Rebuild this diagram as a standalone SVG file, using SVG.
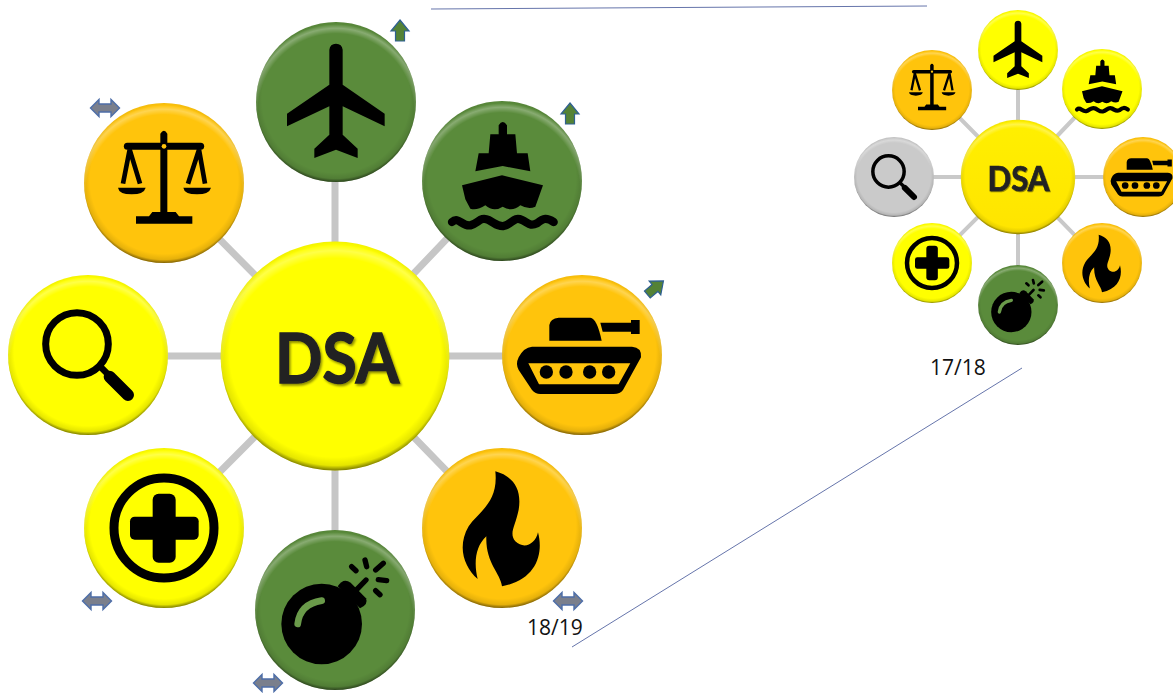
<svg xmlns="http://www.w3.org/2000/svg" width="1173" height="693" viewBox="0 0 1173 693">
<style>
.y{fill:#ffff00}.o{fill:#ffc40c}.g{fill:#5a8b3b}.s{fill:#cacaca}
.big{stroke:#c6c6c6;stroke-width:7;fill:none}
.small{stroke:#c9c9c9;stroke-width:4;fill:none}
.thin{stroke:#6675ab;stroke-width:1;fill:none}
.arrG{fill:#548235;stroke:#2f6092;stroke-width:1.2;stroke-linejoin:miter}
.arrB{fill:#7a7f8c;stroke:#4d6ea8;stroke-width:1.4}
.lbl{font-family:"Open Sans","Noto Sans",sans-serif;font-size:21px;fill:#111}
.hub{font-family:Lato,"Liberation Sans",sans-serif;font-weight:700;font-size:68px;fill:#222;stroke:#222;stroke-width:1.4;text-anchor:middle;filter:url(#ts)}
</style>
<defs>
<filter id="ts" x="-10%" y="-10%" width="120%" height="130%"><feDropShadow dx="1.5" dy="2" stdDeviation="1" flood-color="#000" flood-opacity=".45"/></filter>
<radialGradient id="edge" cx=".5" cy=".48" r=".525"><stop offset=".88" stop-color="#000" stop-opacity="0"/><stop offset=".95" stop-color="#000" stop-opacity=".1"/><stop offset="1" stop-color="#000" stop-opacity=".6"/></radialGradient>
<radialGradient id="shine" cx=".5" cy=".56" r=".56"><stop offset=".87" stop-color="#fff" stop-opacity="0"/><stop offset=".93" stop-color="#fff" stop-opacity=".28"/><stop offset=".975" stop-color="#fff" stop-opacity="0"/></radialGradient>
<linearGradient id="gold" x1="0" y1="0" x2="0" y2="1"><stop offset="0" stop-color="#fff000"/><stop offset="1" stop-color="#ffe400"/></linearGradient>
<g id="bevel"><circle r="80" fill="url(#edge)"/><circle r="80" fill="url(#shine)"/></g>
<g id="i-plane" transform="scale(.3333) translate(-315,-307)"><path d="M295,150Q297,132 315,132Q333,132 335,150V255L461,342V380L335,320V405L380,447V475L315,450L250,475V447L295,405V320L168,380V342L295,255Z"/></g>
<g id="i-ship" transform="scale(.3333) translate(-815,-545)"><path d="M805,378Q817,358 830,378V405H855L860,462H892L900,516L817,500L735,516L745,462H775L780,405H805Z"/><path d="M695,558L815,528L938,558L915,622Q895,632 870,618Q845,640 817,622Q790,640 765,618Q740,634 720,628L705,600Z"/><path d="M665,668C685,650 695,682 720,678C745,672 750,650 775,662C795,672 800,682 820,680C845,675 850,650 875,662C895,672 900,682 920,672C940,655 950,655 970,668" fill="none" stroke="#000" stroke-width="25" stroke-linecap="round"/></g>
<g id="i-scales" transform="scale(.3333) translate(-490,-278)"><path d="M380,168H600" stroke="#000" stroke-width="21" stroke-linecap="round"/><path d="M479,130Q490,112 500,130V365H525L535,378H575V400H406V378H445L455,365H479Z"/><circle cx="490" cy="168" r="7" class="o"/><path d="M367,280L387,178L418,280M562,280L595,178L613,280" fill="none" stroke="#000" stroke-width="14"/><path d="M352,292H435Q430,312 393,312Q355,312 352,292Z"/><path d="M548,292H631Q626,312 589,312Q551,312 548,292Z"/></g>
<g id="i-search" transform="scale(.3333) translate(-265,-795)"><circle cx="232" cy="762" r="94" fill="none" stroke="#000" stroke-width="21"/><path d="M300,828L330,858" stroke="#000" stroke-width="20"/><path d="M330,860L385,915" stroke="#000" stroke-width="36" stroke-linecap="round"/></g>
<g id="i-tank" transform="scale(.3333) translate(-545,-255)"><path d="M447,212V165Q450,145 475,143H570Q590,145 604,212Z"/><path d="M600,158H692V150H718V192H692V185H607Z"/><path fill-rule="evenodd" d="M395,230H695Q725,232 722,262L668,360Q660,372 640,372H420Q405,372 395,360L355,300Q345,282 355,262Q370,232 395,230ZM384,280L416,343H655L690,280Z"/><circle cx="438" cy="306" r="20"/><circle cx="497" cy="306" r="20"/><circle cx="568" cy="306" r="20"/><circle cx="625" cy="306" r="20"/></g>
<g id="i-fire" transform="scale(.3333) translate(-305,-775)"><path d="M285,605C340,620 365,660 355,720C345,770 325,790 345,815C370,840 405,825 413,788C430,850 410,930 305,950C300,910 255,880 258,800C225,830 220,880 232,928C190,890 170,830 205,770C235,725 295,700 285,605Z"/></g>
<g id="i-plus" transform="scale(.3333) translate(-280,-263)"><circle cx="280" cy="263" r="150" fill="none" stroke="#000" stroke-width="27"/><rect x="246" y="160" width="69" height="207" rx="18"/><rect x="178" y="229" width="206" height="69" rx="14"/></g>
<g id="i-bomb" transform="scale(.3333) translate(-795,-508)"><circle cx="755" cy="550" r="121"/><path d="M803,437Q820,410 842,426L888,473Q896,492 870,503Z"/><path d="M683,550Q690,490 755,480" fill="none" stroke="#6a9a4a" stroke-width="20" stroke-linecap="round"/><path d="M860,447L888,418M845,378L858,390M885,358L890,378M940,368L917,388M925,417L950,420M917,450L930,462" fill="none" stroke="#000" stroke-width="16" stroke-linecap="round"/></g>
<polygon id="up" points="0,-11 9,0 4.500,0 4.500,10 -4.500,10 -4.500,0 -9,0"/>
<polygon id="dbl" points="-14.500,0 -6,-8.500 -6,-4 6,-4 6,-8.500 14.500,0 6,8.500 6,4 -6,4 -6,8.500"/>
</defs>
<rect width="1173" height="693" fill="#fff"/>
<g id="connectors">
<path class="big" d="M335,356V102M335,356L502,181M335,356H582M335,356L502,528M335,356V610M335,356L164,528M335,356H88M335,356L164,183"/>
<path class="small" d="M1018,177V50M1018,177L1102,89M1018,177H1143M1018,177L1102,263M1018,177V305M1018,177L932,263M1018,177H894M1018,177L932,90"/>
<path class="thin" d="M431,9L927,6"/>
<path class="thin" d="M572,647L1022,368"/>
</g>
<g id="big-plane" transform="translate(336,102)"><circle r="80" class="g"/><use href="#bevel"/><use href="#i-plane"/></g>
<g id="big-ship" transform="translate(502,181)"><circle r="80" class="g"/><use href="#bevel"/><use href="#i-ship"/></g>
<g id="big-tank" transform="translate(582,355)"><circle r="80" class="o"/><use href="#bevel"/><use href="#i-tank"/></g>
<g id="big-fire" transform="translate(502,528)"><circle r="80" class="o"/><use href="#bevel"/><use href="#i-fire"/></g>
<g id="big-bomb" transform="translate(335,610)"><circle r="80" class="g"/><use href="#bevel"/><use href="#i-bomb"/></g>
<g id="big-plus" transform="translate(164,528)"><circle r="80" class="y"/><use href="#bevel"/><use href="#i-plus"/></g>
<g id="big-search" transform="translate(88,355)"><circle r="80" class="y"/><use href="#bevel"/><use href="#i-search"/></g>
<g id="big-scales" transform="translate(164,183)"><circle r="80" class="o"/><use href="#bevel"/><use href="#i-scales"/></g>
<g id="big-hub"><g transform="translate(335,356) scale(1.43)"><circle r="80" class="y"/><use href="#bevel"/></g><text class="hub" x="337" y="383" textLength="124" lengthAdjust="spacingAndGlyphs">DSA</text></g>
<g id="small-plane" transform="translate(1018,50) scale(.5)"><circle r="80" class="y"/><use href="#bevel"/><use href="#i-plane"/></g>
<g id="small-ship" transform="translate(1102,89) scale(.5)"><circle r="80" class="y"/><use href="#bevel"/><use href="#i-ship"/></g>
<g id="small-tank" transform="translate(1143,177) scale(.5)"><circle r="80" class="o"/><use href="#bevel"/><use href="#i-tank"/></g>
<g id="small-fire" transform="translate(1102,263) scale(.5)"><circle r="80" class="o"/><use href="#bevel"/><use href="#i-fire"/></g>
<g id="small-bomb" transform="translate(1018,305) scale(.5)"><circle r="80" class="g"/><use href="#bevel"/><use href="#i-bomb"/></g>
<g id="small-plus" transform="translate(932,263) scale(.5)"><circle r="80" class="y"/><use href="#bevel"/><use href="#i-plus"/></g>
<g id="small-search" transform="translate(894,177) scale(.5)"><circle r="80" class="s"/><use href="#bevel"/><use href="#i-search"/></g>
<g id="small-scales" transform="translate(932,90) scale(.5)"><circle r="80" class="o"/><use href="#bevel"/><use href="#i-scales"/></g>
<g id="small-hub" transform="translate(1018,177) scale(.5)"><g transform="scale(1.43)"><circle r="80" fill="url(#gold)"/><use href="#bevel"/></g><text class="hub" x="1" y="27" textLength="124" lengthAdjust="spacingAndGlyphs">DSA</text></g>
<g id="arrows">
<use href="#up" class="arrG" transform="translate(400,31)"/>
<use href="#up" class="arrG" transform="translate(570,114)"/>
<use href="#up" class="arrG" transform="translate(655,288) rotate(50)"/>
<use href="#dbl" class="arrB" transform="translate(105,108)"/>
<use href="#dbl" class="arrB" transform="translate(568,601)"/>
<use href="#dbl" class="arrB" transform="translate(97,601)"/>
<use href="#dbl" class="arrB" transform="translate(268,683)"/>
</g>
<text class="lbl" x="527" y="635">18/19</text>
<text class="lbl" x="930" y="375">17/18</text>
</svg>
